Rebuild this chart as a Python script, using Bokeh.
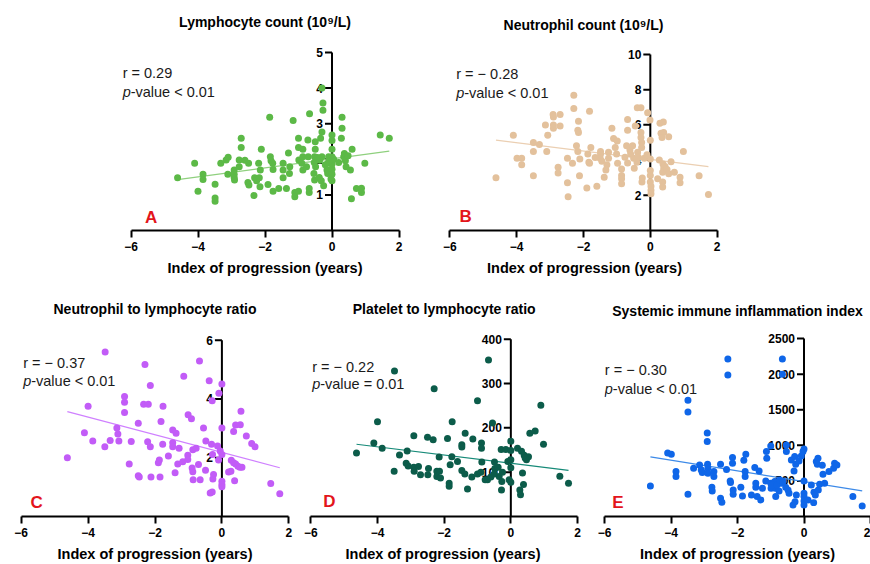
import numpy as np
from bokeh.plotting import figure
from bokeh.layouts import row, column
from bokeh.models import Range1d
from bokeh.embed import file_html
from bokeh.resources import INLINE
from bokeh.core.properties import value

FONT = "Liberation Sans"

# ---------------- data ----------------
x_ticks = [-6, -4, -2, 0, 2]
x_title = "Index of progression (years)"

lymph_pts = [(-4.61,1.48),(-4.10,1.89),(-4.00,1.10),(-3.85,1.58),(-3.85,1.43),(-3.49,1.30),(-3.49,0.91),
    (-3.49,0.82),(-3.32,1.89),(-3.16,1.98),(-3.10,2.06),(-3.11,1.58),(-2.92,1.70),(-2.92,1.58),(-2.92,1.49),
    (-2.91,1.42),(-2.71,2.59),(-2.71,2.33),(-2.77,1.98),(-2.77,1.79),(-2.49,1.89),(-2.51,1.35),(-2.48,1.28),
    (-2.33,0.98),(-2.31,1.48),(-2.25,1.40),(-2.17,1.48),(-2.19,1.89),(-2.11,2.28),(-2.14,1.70),(-2.15,1.23),
    (-1.91,1.29),(-1.86,3.18),(-1.84,2.07),(-1.82,1.96),(-1.77,1.89),(-1.76,1.71),(-1.76,1.10),(-1.59,1.18),
    (-1.46,1.89),(-1.46,1.70),(-1.46,1.48),(-1.36,1.18),(-1.30,2.18),(-1.26,1.79),(-1.27,1.60),(-1.16,3.09),
    (-1.11,1.07),(-1.11,0.95),(-1.00,1.10),(-1.00,2.59),(-1.00,2.33),(-0.99,1.98),(-0.90,1.89),(-0.87,2.28),
    (-0.87,2.07),(-0.87,1.70),(-0.76,1.79),(-0.72,2.54),(-0.71,2.07),(-0.67,3.28),(-0.68,1.18),(-0.68,1.07),
    (-0.54,1.60),(-0.52,1.42),(-0.50,2.49),(-0.50,2.28),(-0.52,2.07),(-0.53,1.91),(-0.49,1.79),(-0.37,1.97),
    (-0.38,1.49),(-0.34,2.59),(-0.30,2.77),(-0.30,2.07),(-0.32,1.40),(-0.27,3.58),(-0.27,3.38),(-0.30,4.00),
    (-0.25,1.26),(-0.15,1.70),(-0.13,1.60),(-0.12,1.89),(-0.10,2.07),(-0.03,1.45),(0.00,2.68),(0.00,2.53),
    (0.00,2.28),(0.00,2.07),(0.00,1.86),(0.00,1.72),(0.00,1.58),(0.00,1.40),(0.05,2.00),(0.20,1.91),
    (0.30,3.18),(0.30,2.87),(0.28,2.59),(0.35,2.07),(0.37,2.16),(0.40,1.96),(0.42,1.79),(0.48,2.10),
    (0.55,1.70),(0.60,2.28),(0.73,1.18),(0.88,1.19),(0.88,1.07),(0.58,0.89),(0.98,1.89),(1.44,2.68),
    (1.71,2.59),(-0.43,2.05),(-0.20,1.85),(-0.08,1.95),(-2.60,1.97)]
lymph_fit_x = [-4.61, 1.71]
lymph_fit_y = [1.43, 2.23]

neut_pts = [(-4.62,2.99),(-4.10,5.41),(-3.99,4.10),(-3.85,4.10),(-3.85,3.73),(-3.50,5.00),(-3.50,4.49),
    (-3.50,3.11),(-3.32,4.89),(-3.14,5.99),(-3.07,5.41),(-3.10,4.49),(-2.91,6.59),(-2.90,6.44),(-2.90,5.99),
    (-2.90,5.81),(-2.70,6.59),(-2.70,5.94),(-2.76,3.59),(-2.76,3.26),(-2.48,4.10),(-2.48,2.71),(-2.46,1.91),
    (-2.29,7.68),(-2.29,6.93),(-2.21,4.81),(-2.15,6.21),(-2.17,5.70),(-2.15,5.56),(-2.17,4.49),(-2.11,4.06),
    (-2.33,3.82),(-2.12,3.11),(-1.90,2.41),(-1.82,6.78),(-1.87,4.34),(-1.84,3.88),(-1.78,4.72),(-1.60,2.51),
    (-1.49,4.49),(-1.49,4.34),(-1.50,4.10),(-1.45,3.93),(-1.30,3.73),(-1.33,3.44),(-1.38,3.03),(-1.25,4.44),
    (-1.25,4.10),(-1.15,5.81),(-1.10,5.22),(-1.05,4.72),(-0.99,5.09),(-0.98,3.82),(-1.01,4.34),(-0.86,3.50),
    (-0.86,3.13),(-0.86,2.94),(-0.86,2.66),(-0.76,4.16),(-0.68,6.31),(-0.68,5.70),(-0.68,3.84),(-0.61,4.57),
    (-0.59,4.34),(-0.53,4.81),(-0.50,4.10),(-0.48,3.54),(-0.45,5.94),(-0.39,6.97),(-0.28,6.97),(-0.38,4.44),
    (-0.36,4.16),(-0.40,3.88),(-0.28,5.56),(-0.28,5.28),(-0.26,5.00),(-0.26,4.72),(-0.24,2.98),(-0.25,2.75),
    (-0.18,4.10),(-0.08,6.69),(-0.01,6.28),(0.00,5.13),(0.00,4.06),(0.00,3.41),(0.00,3.13),(0.00,2.75),
    (0.02,2.51),(0.02,2.28),(0.02,2.09),(0.22,2.94),(0.27,4.01),(0.29,6.09),(0.39,6.16),(0.32,5.53),
    (0.40,5.56),(0.35,5.28),(0.38,3.78),(0.40,3.54),(0.37,3.31),(0.44,3.63),(0.50,3.46),(0.55,5.32),
    (0.62,3.91),(0.37,2.75),(0.37,2.47),(0.55,3.22),(0.72,3.31),(0.89,3.03),(0.89,2.71),(0.99,4.49),
    (1.46,3.11),(1.74,2.04),(-1.82,3.82),(-0.71,4.81),(-0.10,4.30),(-1.65,4.15)]
neut_fit_x = [-4.62, 1.74]
neut_fit_y = [5.13, 3.63]

nlr_pts = [(-4.62,2.00),(-4.11,2.85),(-4.00,3.75),(-3.86,2.57),(-3.50,2.37),(-3.49,5.60),(-3.34,2.59),
    (-3.14,3.01),(-3.11,2.81),(-3.08,2.57),(-2.91,4.08),(-2.91,3.89),(-2.91,3.54),(-2.77,1.79),(-2.71,2.55),
    (-2.50,3.17),(-2.50,1.39),(-2.47,1.34),(-2.34,3.82),(-2.20,3.82),(-2.30,5.17),(-2.14,4.46),(-2.22,2.54),
    (-2.14,2.37),(-2.12,1.34),(-1.85,1.34),(-1.82,3.23),(-1.76,3.75),(-1.77,2.46),(-1.90,1.83),(-1.87,1.92),
    (-1.60,2.06),(-1.47,2.94),(-1.37,2.83),(-1.47,2.51),(-1.47,2.37),(-1.40,1.49),(-1.28,2.32),(-1.14,4.77),
    (-1.32,1.79),(-1.17,1.86),(-1.01,3.46),(-0.91,3.33),(-1.02,2.08),(-1.02,1.94),(-0.89,1.65),(-0.87,1.52),
    (-0.86,1.25),(-0.87,2.27),(-0.77,2.32),(-0.70,1.77),(-0.67,5.29),(-0.65,1.25),(-0.55,3.01),(-0.49,1.57),
    (-0.48,2.57),(-0.38,4.62),(-0.29,3.94),(-0.31,2.46),(-0.28,2.11),(-0.25,1.43),(-0.27,1.28),(-0.35,0.80),
    (-0.29,0.83),(-0.13,2.40),(-0.09,4.19),(-0.10,1.92),(-0.05,2.23),(0.00,4.51),(0.00,3.01),(0.00,1.20),
    (0.00,1.09),(0.00,1.01),(0.00,2.11),(0.28,1.91),(0.35,1.83),(0.41,1.79),(0.48,1.71),(0.54,1.68),
    (0.60,1.68),(0.20,1.51),(0.27,1.54),(0.38,1.22),(0.35,2.89),(0.41,3.11),(0.55,3.12),(0.57,3.58),
    (0.73,2.74),(0.89,2.48),(0.99,2.37),(1.46,1.12),(1.73,0.77)]
nlr_fit_x = [-4.62, 1.73]
nlr_fit_y = [3.57, 1.66]

plr_pts = [(-4.63,143),(-4.11,166),(-4.00,214),(-3.86,154),(-3.50,102),(-3.49,328),(-3.34,139),
    (-3.11,148),(-3.14,120),(-3.08,114),(-2.91,182),(-2.91,111),(-2.90,102),(-2.77,113),(-2.71,94),
    (-2.50,179),(-2.49,94),(-2.47,108),(-2.33,173),(-2.30,288),(-2.22,102),(-2.22,90),(-2.14,102),
    (-2.15,134),(-2.11,87),(-1.90,176),(-1.85,75),(-1.85,68),(-1.82,117),(-1.76,214),(-1.77,135),
    (-1.60,124),(-1.47,162),(-1.47,157),(-1.47,104),(-1.37,188),(-1.30,62),(-1.38,96),(-1.17,89),
    (-1.14,175),(-1.00,261),(-1.00,96),(-0.88,166),(-0.88,154),(-0.87,123),(-0.90,100),(-0.77,83),
    (-0.70,83),(-0.67,353),(-0.55,211),(-0.49,123),(-0.48,108),(-0.38,111),(-0.35,90),(-0.29,151),
    (-0.27,79),(-0.28,60),(-0.15,151),(-0.09,124),(-0.05,83),(0.00,170),(0.00,149),(0.00,128),
    (0.00,110),(0.00,77),(0.20,154),(0.32,147),(0.40,138),(0.47,128),(0.53,135),(0.57,188),
    (0.73,193),(0.90,251),(0.98,163),(0.35,98),(0.38,72),(0.27,60),(0.29,49),(1.47,91),(1.73,75),
    (0.43,132),(-0.60,89),(-0.50,96),(-0.25,100)]
plr_fit_x = [-4.63, 1.73]
plr_fit_y = [163, 104]

sii_pts = [(-4.62,430),(-4.10,894),(-3.99,875),(-3.85,631),(-3.85,561),(-3.49,1634),(-3.49,1470),
    (-3.49,313),(-3.32,678),(-3.14,725),(-3.09,655),(-3.06,617),(-2.91,1175),(-2.91,1053),(-2.90,734),
    (-2.89,678),(-2.89,608),(-2.77,411),(-2.76,359),(-2.71,631),(-2.71,561),(-2.51,734),(-2.51,256),
    (-2.47,200),(-2.29,2215),(-2.29,1990),(-2.33,659),(-2.22,500),(-2.21,477),(-2.15,828),(-2.15,748),
    (-2.13,373),(-2.13,313),(-1.90,411),(-1.85,289),(-1.81,791),(-1.75,875),(-1.77,631),(-1.77,561),
    (-1.58,303),(-1.48,687),(-1.45,467),(-1.45,411),(-1.35,641),(-1.41,280),(-1.30,233),(-1.25,397),
    (-1.13,912),(-1.12,819),(-1.15,500),(-1.00,992),(-1.00,467),(-0.99,397),(-0.88,491),(-0.86,397),
    (-0.85,280),(-0.75,359),(-0.68,467),(-0.65,2215),(-0.65,1999),(-0.53,1006),(-0.53,912),(-0.55,411),
    (-0.48,373),(-0.45,327),(-0.38,795),(-0.28,842),(-0.30,641),(-0.25,734),(-0.33,163),(-0.27,209),
    (-0.23,303),(-0.15,781),(-0.08,851),(-0.03,912),(0.00,950),(0.00,500),(0.00,327),(0.00,280),
    (0.00,219),(0.00,163),(0.22,444),(0.30,341),(0.34,303),(0.29,195),(0.37,772),(0.42,819),(0.40,734),
    (0.43,373),(0.47,453),(0.55,720),(0.62,467),(0.57,594),(0.75,631),(0.89,678),(0.92,748),(0.99,725),
    (1.47,280),(1.75,149),(0.12,233),(-0.95,444),(-0.81,444),(-0.73,514),(-0.63,491)]
sii_fit_x = [-4.62, 1.75]
sii_fit_y = [837, 359]

lymph_yticks = [1, 2, 3, 4, 5]
neut_yticks = [2, 4, 6, 8, 10]
nlr_yticks = [2, 4, 6]
plr_yticks = [100, 200, 300, 400]
sii_yticks = [500, 1000, 1500, 2000, 2500]


def panel(width, height, xr, yr, borders, title, title_y, pts, color,
          fit_x, fit_y, fit_color, yticks, r_text, p_text, ann, letter, letter_pos):
    bl, br, bt, bb = borders
    p = figure(width=width, height=height, x_range=Range1d(*xr), y_range=Range1d(*yr),
               output_backend="svg", toolbar_location=None, y_axis_location=None,
               min_border_left=bl, min_border_right=br, min_border_top=bt, min_border_bottom=bb)
    p.grid.visible = False
    p.outline_line_color = None
    p.background_fill_color = "white"
    p.border_fill_color = "white"
    p.title.text = ""
    p.title.visible = False

    # x axis
    xa = p.xaxis[0]
    xa.ticker = x_ticks
    xa.bounds = (-6, 2)
    xa.axis_line_width = 2
    xa.axis_line_color = "black"
    xa.major_tick_line_width = 2
    xa.major_tick_line_color = "black"
    xa.major_tick_out = 7
    xa.major_tick_in = 0
    xa.minor_tick_out = 0
    xa.minor_tick_in = 0
    xa.major_label_standoff = 4
    xa.major_label_text_font = FONT
    xa.major_label_text_font_size = "12px"
    xa.major_label_text_font_style = "bold"
    xa.major_label_text_color = "black"
    xa.axis_label = x_title
    xa.axis_label_standoff = 6
    xa.axis_label_text_font = FONT
    xa.axis_label_text_font_size = "14.5px"
    xa.axis_label_text_font_style = "bold"
    xa.axis_label_text_color = "black"

    # panel title, centred over the x axis
    p.text(x=[-2], y=[title_y], text=[title], text_align="center", text_baseline="middle",
           text_font=value(FONT), text_font_size="14px", text_font_style="bold",
           text_color="black")

    # y axis drawn at x = 0
    p.segment(x0=[0], y0=[0], x1=[0], y1=[yticks[-1]], line_width=2, line_color="black")
    p.ray(x=[0] * len(yticks), y=yticks, length=7, length_units="screen", angle=np.pi,
          line_width=2, line_color="black")
    p.text(x=[0] * len(yticks), y=yticks, text=[str(t) for t in yticks], x_offset=-9,
           text_align="right", text_baseline="middle", text_font=value(FONT),
           text_font_size="12px", text_font_style="bold", text_color="black")

    # regression line
    p.line(fit_x, fit_y, line_color=fit_color, line_width=1.2)

    # points
    xs = [a for a, b in pts]
    ys = [b for a, b in pts]
    p.scatter(xs, ys, size=7, fill_color=color, line_color=None)

    # annotation
    ax, ay1, ay2 = ann
    p.text(x=[ax], y=[ay1], text=[r_text], text_align="left", text_baseline="middle",
           text_font=value(FONT), text_font_size="14.5px", text_color="#1a1a1a")
    p.text(x=[ax], y=[ay2], text=["p"], text_align="left", text_baseline="middle",
           text_font=value(FONT), text_font_size="14.5px", text_font_style="italic",
           text_color="#1a1a1a")
    p.text(x=[ax], y=[ay2], text=[p_text], x_offset=8, text_align="left", text_baseline="middle",
           text_font=value(FONT), text_font_size="14.5px", text_color="#1a1a1a")

    # panel letter
    p.text(x=[letter_pos[0]], y=[letter_pos[1]], text=[letter], text_align="center",
           text_baseline="middle", text_font=value(FONT), text_font_size="17px",
           text_font_style="bold", text_color="#e3151b")
    return p


pA = panel(435, 290, (-7, 3), (0, 6.32), (97, 3, 5, 60),
           "Lymphocyte count (10\u2079/L)", 5.87, lymph_pts, "#5cb947",
           lymph_fit_x, lymph_fit_y, "#8fd07e", lymph_yticks,
           "r = 0.29", "-value < 0.01", (-6.25, 4.41, 3.88), "A", (-5.40, 0.37))
pB = panel(435, 290, (-6.4, 2.46), (0, 12.78), (1, 138, 5, 60),
           "Neutrophil count (10\u2079/L)", 11.70, neut_pts, "#e3c19c",
           neut_fit_x, neut_fit_y, "#ebcfb2", neut_yticks,
           "r = \u2212 0.28", "-value < 0.01", (-5.81, 8.88, 7.80), "B", (-5.53, 0.80))
pC = panel(295, 274, (-6.2, 2.2), (0, 7.52), (14, 0, 5, 48),
           "Neutrophil to lymphocyte ratio", 7.06, nlr_pts, "#c25cf7",
           nlr_fit_x, nlr_fit_y, "#cf80ff", nlr_yticks,
           "r = \u2212 0.37", "-value < 0.01", (-5.94, 5.21, 4.60), "C", (-5.54, 0.49))
pD = panel(295, 274, (-6.4, 2.33), (0, 498.5), (2, 2, 5, 48),
           "Platelet to lymphocyte ratio", 467, plr_pts, "#0c5c4a",
           plr_fit_x, plr_fit_y, "#168a78", plr_yticks,
           "r = \u2212 0.22", "-value = 0.01", (-5.96, 338, 298), "D", (-5.44, 34.5))
pE = panel(280, 274, (-6.0, 2.0), (0, 3106), (14, 0, 5, 48),
           "Systemic immune inflammation index", 2895, sii_pts, "#0f66e8",
           sii_fit_x, sii_fit_y, "#3d8ae8", sii_yticks,
           "r = \u2212 0.30", "-value < 0.01", (-5.99, 2052, 1795), "E", (-5.60, 193))

layout = column(row(pA, pB), row(pC, pD, pE))
open("out.html", "w").write(file_html(layout, INLINE))
